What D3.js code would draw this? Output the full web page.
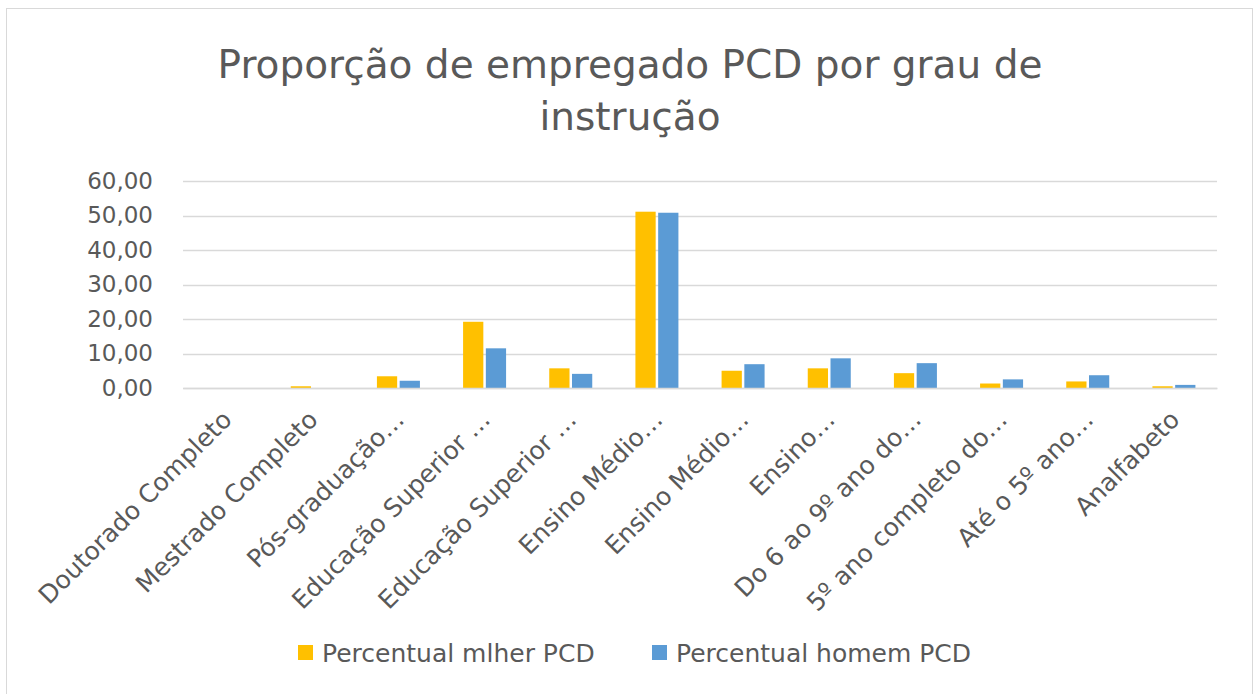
<!DOCTYPE html>
<html>
<head>
<meta charset="utf-8">
<script src="https://cdn.jsdelivr.net/npm/d3@7"></script>
<style>
  body { margin: 0; background: #fff; }
  text { font-family: "DejaVu Sans", "Open Sans", sans-serif; fill: #595959; }
</style>
</head>
<body>
<script>
// dados
var categorias = ["Doutorado Completo", "Mestrado Completo", "Pós-graduação…",
    "Educação Superior …", "Educação Superior …", "Ensino Médio…", "Ensino Médio…",
    "Ensino…", "Do 6 ao 9º ano do…", "5º ano completo do…", "Até o 5º ano…", "Analfabeto"];
var mulher = [0.0, 0.5, 3.4, 19.2, 5.7, 51.1, 5.0, 5.7, 4.3, 1.3, 1.9, 0.5];
var homem  = [0.0, 0.0, 2.1, 11.5, 4.1, 50.8, 6.9, 8.6, 7.2, 2.5, 3.7, 0.9];
var series = ["Percentual mlher PCD", "Percentual homem PCD"];
var yTicks = [0, 10, 20, 30, 40, 50, 60];
var cores = ["#FFC000", "#5B9BD5"];

var width = 1254, height = 694;
var svg = d3.select("body").append("svg")
    .attr("width", width)
    .attr("height", height);

// moldura
svg.append("rect")
    .attr("x", 6.5).attr("y", 8.5)
    .attr("width", 1246).attr("height", 700)
    .attr("fill", "#fff")
    .attr("stroke", "#d9d9d9");

// titulo
var titulo = svg.append("text")
    .attr("text-anchor", "middle")
    .attr("font-size", 39);
titulo.append("tspan").attr("x", 630).attr("y", 78).text("Proporção de empregado PCD por grau de");
titulo.append("tspan").attr("x", 630).attr("y", 130).text("instrução");

var pLeft = 183, pRight = 1217, pTop = 181, pBottom = 388;

var x = d3.scaleBand()
    .domain(d3.range(categorias.length))
    .range([pLeft, pRight]);
var y = d3.scaleLinear()
    .domain([0, 60])
    .range([pBottom, pTop]);
var xs = d3.scaleBand()
    .domain([0, 1])
    .range([x.bandwidth() / 2 - 21.5, x.bandwidth() / 2 + 21.5])
    .paddingInner(0.11);

// grade
svg.append("g").selectAll("line")
    .data(yTicks)
    .enter().append("line")
    .attr("x1", pLeft).attr("x2", pRight)
    .attr("y1", function(d) { return Math.round(y(d)) + 0.5; })
    .attr("y2", function(d) { return Math.round(y(d)) + 0.5; })
    .attr("stroke", "#d9d9d9")
    .attr("stroke-width", 1.5);

// eixo y
var yAxis = svg.append("g")
    .attr("transform", "translate(" + 153 + ",0)")
    .call(d3.axisLeft(y).tickValues(yTicks).tickSize(0).tickPadding(0)
        .tickFormat(function(d) { return d3.format(".2f")(d).replace(".", ","); }));
yAxis.select(".domain").remove();
yAxis.selectAll("text")
    .attr("font-size", 23)
    .attr("fill", "#595959")
    .style("font-family", "'DejaVu Sans', sans-serif");

// barras
var grupos = svg.append("g").selectAll("g")
    .data(categorias)
    .enter().append("g")
    .attr("transform", function(_, i) { return "translate(" + x(i) + ",0)"; });

grupos.selectAll("rect")
    .data(function(_, i) { return [mulher[i], homem[i]]; })
    .enter().append("rect")
    .attr("x", function(_, j) { return xs(j); })
    .attr("width", xs.bandwidth())
    .attr("y", function(d) { return y(d); })
    .attr("height", function(d) { return pBottom - y(d); })
    .attr("fill", function(_, j) { return cores[j]; });

// eixo x
svg.append("g")
    .attr("transform", "translate(0," + pBottom + ")")
    .call(d3.axisBottom(x).tickSize(0).tickFormat(function() { return ""; }))
    .select(".domain")
    .attr("stroke", "#d9d9d9")
    .attr("stroke-width", 1.5);

svg.append("g").selectAll("text")
    .data(categorias)
    .enter().append("text")
    .attr("text-anchor", "end")
    .attr("font-size", 25)
    .attr("dy", "0.35em")
    .attr("transform", function(_, i) {
        return "translate(" + (x(i) + x.bandwidth() / 2 + 1) + "," + 415 + ") rotate(-45)";
    })
    .text(function(d) { return d; });

// legenda
var legX = [298, 652];
var leg = svg.append("g").selectAll("g")
    .data(series)
    .enter().append("g")
    .attr("transform", function(_, i) { return "translate(" + legX[i] + ",645)"; });
leg.append("rect")
    .attr("width", 15).attr("height", 15)
    .attr("fill", function(_, i) { return cores[i]; });
leg.append("text")
    .attr("x", 24).attr("y", 17)
    .attr("font-size", 25)
    .text(function(d) { return d; });
</script>
</body>
</html>
